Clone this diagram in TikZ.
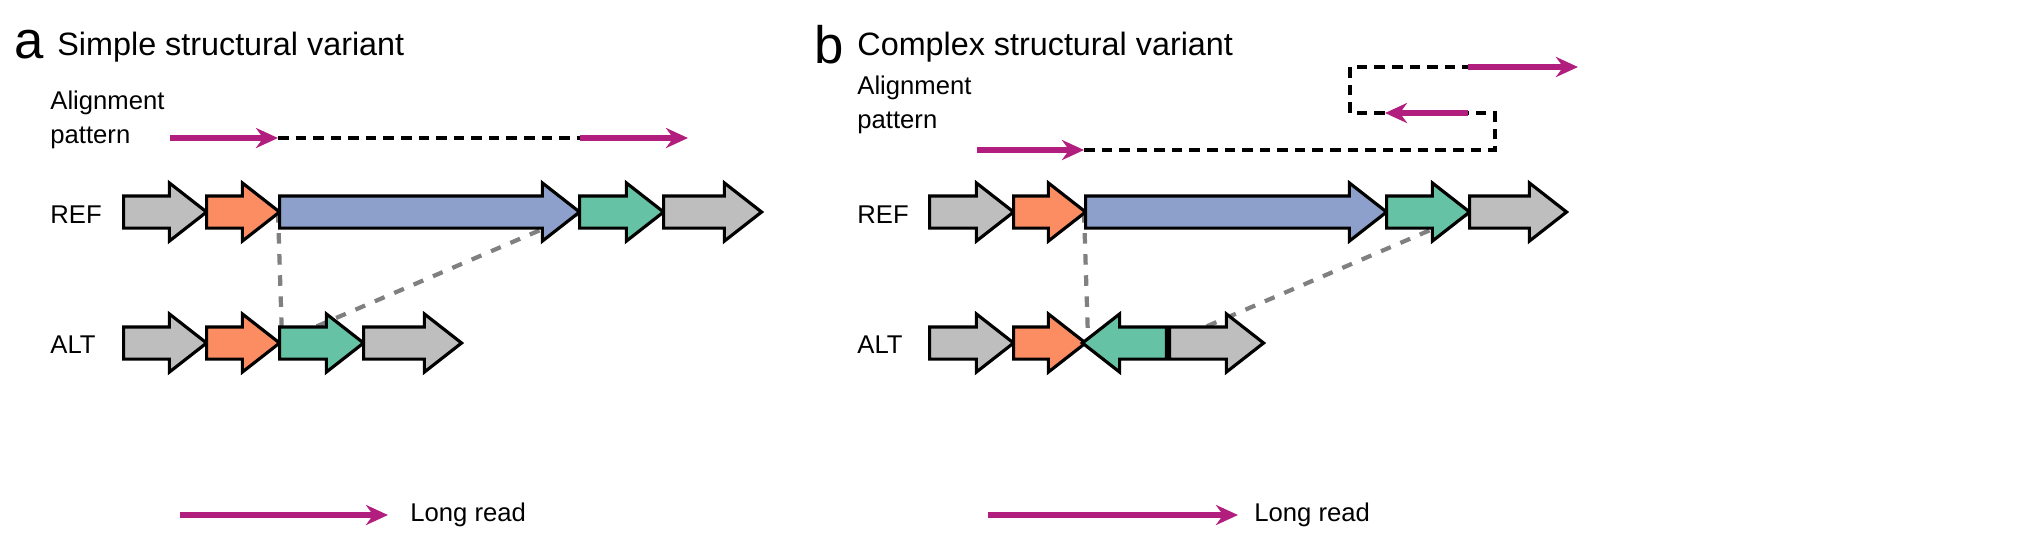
\documentclass[tikz,border=0pt]{standalone}
\usepackage{fontspec}
\setmainfont{Liberation Sans}
\usetikzlibrary{shapes.arrows,backgrounds,arrows.meta}
\definecolor{gene gray}{RGB}{190,190,190}
\definecolor{gene orange}{RGB}{252,141,98}
\definecolor{gene blue}{RGB}{141,160,203}
\definecolor{gene green}{RGB}{102,194,165}
\definecolor{read}{RGB}{178,30,125}
\newcommand{\shaft}{\rule{0pt}{0.29cm}}
\tikzset{
 blk/.style={single arrow,draw=black,line width=0.9pt,inner sep=0pt,
  single arrow head extend=0.13cm,single arrow tip angle=76,anchor=tail,minimum height=#1},
 rd/.style={draw=read,line width=1.6pt,-{Stealth[length=0.22cm,width=0.2cm]}},
 gap/.style={densely dashed,line width=0.9pt},
 link/.style={dashed,draw=black!50,line width=1.2pt},
 lbl/.style={anchor=west,font=\fontsize{7.3}{9.5}\selectfont,align=left},
 ttl/.style={anchor=west,font=\fontsize{9.2}{11}\selectfont},
 pnl/.style={anchor=west,font=\fontsize{15}{16}\selectfont}
}
\begin{document}
\begin{tikzpicture}
 \useasboundingbox (0,0) rectangle (20.38,-5.39);
 % panel a
 \node (a) at (0.02,-0.45) [pnl] {a};
 \node (ta) at (0.45,-0.47) [ttl] {Simple structural variant};
 \node (pa) at (0.38,-1.2) [lbl] {Alignment\\pattern};
 \node (refa) at (0.38,-2.15) [lbl] {REF};
 \node (alta) at (0.38,-3.45) [lbl] {ALT};
 \node (ra1) at (1.22,-2.12) [blk=0.83cm,fill=gene gray] {\shaft};
 \node (ra2) at (2.05,-2.12) [blk=0.73cm,fill=gene orange] {\shaft};
 \node (ra3) at (2.78,-2.12) [blk=3.0cm,fill=gene blue] {\shaft};
 \node (ra4) at (5.78,-2.12) [blk=0.84cm,fill=gene green] {\shaft};
 \node (ra5) at (6.62,-2.12) [blk=0.98cm,fill=gene gray] {\shaft};
 \node (aa1) at (1.22,-3.43) [blk=0.83cm,fill=gene gray] {\shaft};
 \node (aa2) at (2.05,-3.43) [blk=0.73cm,fill=gene orange] {\shaft};
 \node (aa3) at (2.78,-3.43) [blk=0.84cm,fill=gene green] {\shaft};
 \node (aa4) at (3.62,-3.43) [blk=0.98cm,fill=gene gray] {\shaft};
 \begin{pgfonlayer}{background}
  \draw[link] (ra3.tail) -- (aa2.tip);
  \draw[link] (aa3.tail) -- (ra3.tip);
 \end{pgfonlayer}
 \coordinate (a1) at (1.70,-1.38);
 \coordinate (a2) at (2.78,-1.38);
 \coordinate (a3) at (5.80,-1.38);
 \coordinate (a4) at (6.88,-1.38);
 \draw[rd] (a1) -- (a2);
 \draw[gap] (a2) -- (a3);
 \draw[rd] (a3) -- (a4);
 \coordinate (la1) at (1.80,-5.15);
 \coordinate (la2) at (3.88,-5.15);
 \draw[rd] (la1) -- (la2);
 \node (lra) at (3.98,-5.15) [lbl] {Long read};
 % panel b
 \node (b) at (8.02,-0.45) [pnl] {b};
 \node (tb) at (8.45,-0.47) [ttl] {Complex structural variant};
 \node (pb) at (8.45,-1.05) [lbl] {Alignment\\pattern};
 \node (refb) at (8.45,-2.15) [lbl] {REF};
 \node (altb) at (8.45,-3.45) [lbl] {ALT};
 \node (rb1) at (9.28,-2.12) [blk=0.84cm,fill=gene gray] {\shaft};
 \node (rb2) at (10.12,-2.12) [blk=0.72cm,fill=gene orange] {\shaft};
 \node (rb3) at (10.84,-2.12) [blk=3.01cm,fill=gene blue] {\shaft};
 \node (rb4) at (13.85,-2.12) [blk=0.83cm,fill=gene green] {\shaft};
 \node (rb5) at (14.68,-2.12) [blk=0.97cm,fill=gene gray] {\shaft};
 \node (ab1) at (9.28,-3.43) [blk=0.84cm,fill=gene gray] {\shaft};
 \node (ab2) at (10.12,-3.43) [blk=0.72cm,fill=gene orange] {\shaft};
 \node (ab3) at (11.68,-3.43) [blk=0.84cm,shape border rotate=180,fill=gene green] {\shaft};
 \node (ab4) at (11.68,-3.43) [blk=0.94cm,fill=gene gray] {\shaft};
 \begin{pgfonlayer}{background}
  \draw[link] (rb3.tail) -- (ab2.tip);
  \draw[link] (ab3.tail) -- (rb4.tip);
 \end{pgfonlayer}
 \coordinate (b1) at (9.77,-1.50);
 \coordinate (b2) at (10.84,-1.50);
 \coordinate (b3) at (14.95,-1.50);
 \coordinate (b4) at (14.95,-1.13);
 \coordinate (b5) at (14.68,-1.13);
 \coordinate (b6) at (13.85,-1.13);
 \coordinate (b7) at (13.50,-1.13);
 \coordinate (b8) at (13.50,-0.67);
 \coordinate (b9) at (14.68,-0.67);
 \coordinate (b10) at (15.78,-0.67);
 \draw[rd] (b1) -- (b2);
 \draw[gap] (b2) -- (b3) -- (b4) -- (b5);
 \draw[rd] (b5) -- (b6);
 \draw[gap] (b6) -- (b7) -- (b8) -- (b9);
 \draw[rd] (b9) -- (b10);
 \coordinate (lb1) at (9.88,-5.15);
 \coordinate (lb2) at (12.38,-5.15);
 \draw[rd] (lb1) -- (lb2);
 \node (lrb) at (12.42,-5.15) [lbl] {Long read};
\end{tikzpicture}
\end{document}
